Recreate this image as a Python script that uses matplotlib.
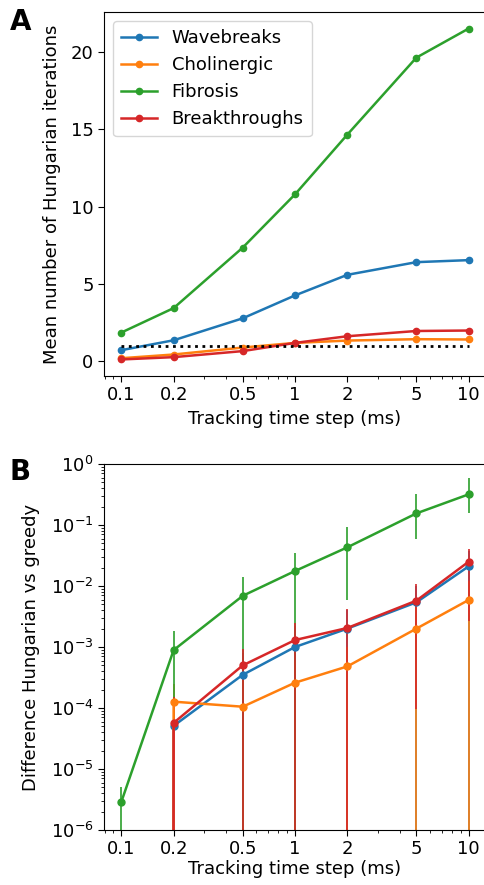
import numpy as np
import matplotlib
matplotlib.use("Agg")
import matplotlib.pyplot as plt
from matplotlib.ticker import FixedLocator, FixedFormatter, NullFormatter

plt.rcParams['font.family'] = ['DejaVu Sans']
plt.rcParams['font.size'] = 13

# time steps (ms)
dt = [0.1, 0.2, 0.5, 1, 2, 5, 10]
dt_labels = ['0.1', '0.2', '0.5', '1', '2', '5', '10']
names = ['Wavebreaks', 'Cholinergic', 'Fibrosis', 'Breakthroughs']
colors = ['#1f77b4', '#ff7f0e', '#2ca02c', '#d62728']

# panel A: mean number of Hungarian iterations
iter_wavebreaks = [0.73, 1.37, 2.79, 4.27, 5.60, 6.42, 6.55]
iter_cholinergic = [0.21, 0.45, 0.90, 1.20, 1.35, 1.44, 1.42]
iter_fibrosis = [1.87, 3.45, 7.36, 10.80, 14.66, 19.64, 21.52]
iter_breakthroughs = [0.13, 0.28, 0.67, 1.20, 1.63, 1.97, 2.00]

# panel B: difference Hungarian vs greedy (mean, lower and upper ends of error bar)
diff_wavebreaks = [0, 5.1e-5, 3.5e-4, 1.0e-3, 2.0e-3, 5.4e-3, 2.1e-2]
low_wavebreaks = [0, 0, 0, 0, 0, 0, 0]
high_wavebreaks = [0, 1.2e-4, 8.0e-4, 2.2e-3, 4.0e-3, 1.0e-2, 3.8e-2]

diff_cholinergic = [0, 1.27e-4, 1.05e-4, 2.6e-4, 4.8e-4, 2.0e-3, 5.9e-3]
low_cholinergic = [0, 0, 0, 0, 0, 0, 0]
high_cholinergic = [0, 2.5e-4, 3.0e-4, 6.0e-4, 1.0e-3, 4.5e-3, 1.2e-2]

diff_fibrosis = [2.9e-6, 8.9e-4, 6.9e-3, 1.76e-2, 4.3e-2, 0.155, 0.318]
low_fibrosis = [0, 0, 0, 0, 6.0e-3, 6.0e-2, 0.155]
high_fibrosis = [5.1e-6, 1.8e-3, 1.4e-2, 3.5e-2, 9.1e-2, 0.318, 0.58]

diff_breakthroughs = [0, 5.7e-5, 5.0e-4, 1.3e-3, 2.05e-3, 5.75e-3, 2.5e-2]
low_breakthroughs = [0, 0, 0, 0, 0, 9.5e-5, 2.7e-3]
high_breakthroughs = [0, 1.5e-4, 9.3e-4, 2.5e-3, 4.2e-3, 1.07e-2, 4.0e-2]

iters = [iter_wavebreaks, iter_cholinergic, iter_fibrosis, iter_breakthroughs]
diffs = [diff_wavebreaks, diff_cholinergic, diff_fibrosis, diff_breakthroughs]
lows = [low_wavebreaks, low_cholinergic, low_fibrosis, low_breakthroughs]
highs = [high_wavebreaks, high_cholinergic, high_fibrosis, high_breakthroughs]

fig = plt.figure(figsize=(4.84, 8.85), dpi=100)
axA = fig.add_axes([104 / 484, 1 - 376 / 885, 382 / 484, 364 / 885])
axB = fig.add_axes([104 / 484, 1 - 830 / 885, 382 / 484, 366 / 885])

# panel A
for y, name, c in zip(iters, names, colors):
    axA.plot(dt, y, '-o', color=c, lw=1.8, ms=4.5, label=name)
axA.plot([dt[0], dt[-1]], [1, 1], 'k:', lw=2)
axA.set_xscale('log')
axA.set_ylabel('Mean number of Hungarian iterations', labelpad=7)
axA.set_xlabel('Tracking time step (ms)')
axA.set_yticks([0, 5, 10, 15, 20])
axA.legend(loc='upper left', fontsize=13, handlelength=2, borderpad=0.45)

# panel B
for y, lo, hi, c in zip(diffs, lows, highs, colors):
    y = np.array(y)
    yerr = [y - np.array(lo), np.array(hi) - y]
    axB.errorbar(dt, y, yerr=yerr, fmt='-o', color=c, lw=1.8, ms=5,
                 elinewidth=1.2, ecolor=c)
axB.set_xscale('log')
axB.set_yscale('log')
axB.set_ylim(1e-6, 1)
axB.set_ylabel('Difference Hungarian vs greedy', labelpad=8)
axB.set_xlabel('Tracking time step (ms)', labelpad=1)

for ax in (axA, axB):
    ax.xaxis.set_major_locator(FixedLocator(dt))
    ax.xaxis.set_major_formatter(FixedFormatter(dt_labels))
    ax.xaxis.set_minor_formatter(NullFormatter())
    ax.tick_params(which='major', length=4)
    ax.tick_params(which='minor', length=2.5)

fig.text(10 / 484, 1 - 8 / 885, 'A', fontsize=20, fontweight='bold', va='top')
fig.text(10 / 484, 1 - 458 / 885, 'B', fontsize=20, fontweight='bold', va='top')

fig.savefig('out.png', dpi=100)
